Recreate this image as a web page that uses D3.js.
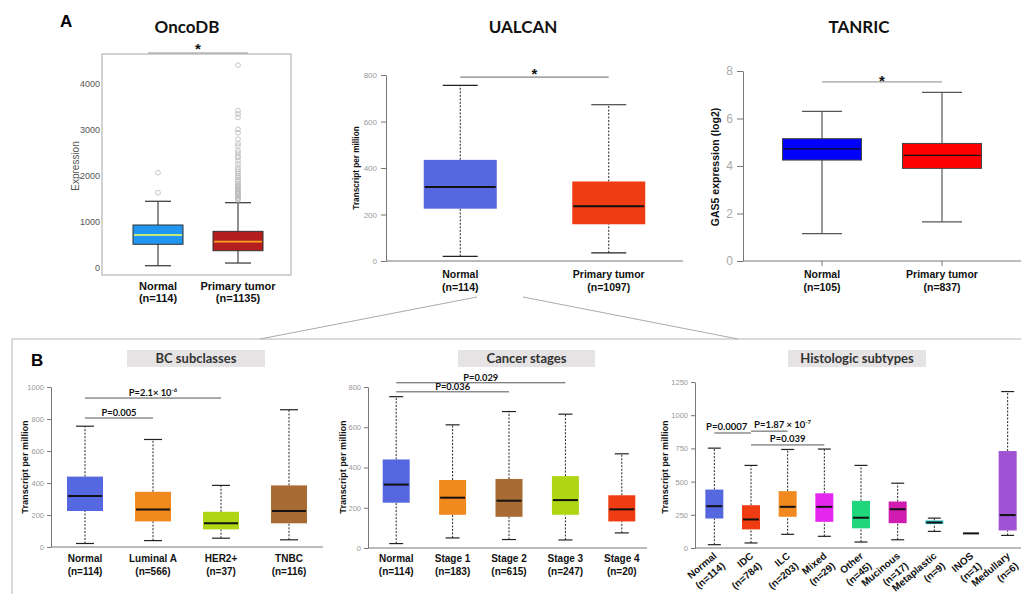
<!DOCTYPE html>
<html>
<head>
<meta charset="utf-8">
<script src="https://cdn.jsdelivr.net/npm/d3@7"></script>
<style>
  body { margin: 0; background: #fff; }
  svg { display: block; }
</style>
</head>
<body>
<div id="chart"></div>
<script>
// ---- data: [min, q1, median, q3, max] per group ----
var oncoGroups = ["Normal", "Primary tumor"];
var oncoN = ["(n=114)", "(n=1135)"];
var oncoStats = [[50, 515, 717, 935, 1450], [108, 376, 572, 797, 1420]];
var oncoOutNormal = [1637, 2072];
var oncoOutTumor = [1480, 1500, 1520, 1550, 1580, 1610, 1625, 1650, 1680, 1710, 1740, 1760,
    1780, 1800, 1840, 1880, 1920, 1970, 2000, 2050, 2095, 2140, 2190, 2260, 2330, 2400,
    2435, 2500, 2550, 2650, 2700, 2800, 2940, 3015, 3275, 3350, 3420, 4410];
var oncoSig = [["Normal", "Primary tumor", 4674, "*"]];

var ualcanGroups = ["Normal", "Primary tumor"];
var ualcanN = ["(n=114)", "(n=1097)"];
var ualcanStats = [[20, 225, 318, 435, 755], [35, 158, 235, 342, 672]];
var ualcanSig = [["Normal", "Primary tumor", 791, "*"]];

var tanricGroups = ["Normal", "Primary tumor"];
var tanricN = ["(n=105)", "(n=837)"];
var tanricStats = [[1.15, 4.25, 4.72, 5.15, 6.3], [1.65, 3.9, 4.45, 4.95, 7.1]];
var tanricSig = [["Normal", "Primary tumor", 7.54, "*"]];

var subclassGroups = ["Normal", "Luminal A", "HER2+", "TNBC"];
var subclassN = ["(n=114)", "(n=566)", "(n=37)", "(n=116)"];
var subclassStats = [[22, 225, 318, 440, 755], [40, 160, 235, 345, 672],
    [55, 110, 148, 220, 385], [45, 148, 225, 385, 858]];
var subclassSig = [["Normal", "HER2+", 931, "P=2.1× 10", "-6"], ["Normal", "Luminal A", 806, "P=0.005", ""]];

var stageGroups = ["Normal", "Stage 1", "Stage 2", "Stage 3", "Stage 4"];
var stageN = ["(n=114)", "(n=183)", "(n=615)", "(n=247)", "(n=20)"];
var stageStats = [[22, 225, 315, 440, 752], [50, 165, 250, 338, 612], [42, 155, 235, 343, 678],
    [40, 165, 238, 357, 665], [75, 132, 192, 262, 468]];
var stageSig = [["Normal", "Stage 3", 821, "P=0.029", ""], ["Normal", "Stage 2", 776, "P=0.036", ""]];

var histoGroups = ["Normal", "IDC", "ILC", "Mixed", "Other", "Mucinous", "Metaplastic", "INOS", "Medullary"];
var histoN = ["(n=114)", "(n=784)", "(n=203)", "(n=29)", "(n=45)", "(n=17)", "(n=9)", "(n=1)", "(n=6)"];
var histoStats = [[25, 222, 315, 440, 752], [38, 140, 215, 322, 622], [103, 235, 310, 428, 742],
    [88, 197, 310, 412, 745], [45, 148, 228, 355, 622], [62, 187, 292, 350, 488],
    [125, 180, 192, 208, 225], [110, 110, 110, 110, 110], [95, 132, 248, 730, 1178]];
var histoSig = [["Normal", "IDC", 866, "P=0.0007", ""], ["IDC", "ILC", 880, "P=1.87 × 10", "-7"],
    ["IDC", "Mixed", 776, "P=0.039", ""]];

// ---- colours ----
var blue = "#5668df", orange = "#f08a1e", lime = "#aed614", brown = "#a86b33", red = "#f03c12";
var oncoColors = ["#2196f0", "#b51e1e"], oncoMedians = ["#c4e87a", "#f5a623"];
var ualcanColors = [blue, red];
var tanricColors = ["#0000ff", "#ff0000"];
var subclassColors = [blue, orange, lime, brown];
var stageColors = [blue, orange, brown, lime, red];
var histoColors = [blue, red, orange, "#e428f0", "#20d67c", "#d01cb0", "#38c6c8", "#111", "#a052d4"];

var svg = d3.select("#chart").append("svg").attr("width", 1021).attr("height", 594);

var labelFont = "'Liberation Sans', Arial, sans-serif";
var titleFont = "Lato, 'Open Sans', sans-serif";

// panel B frame and the zoom lines from UALCAN
svg.append("rect").attr("x", 12).attr("y", 339).attr("width", 1030).attr("height", 300)
    .attr("fill", "none").attr("stroke", "#b5b5b5");
svg.append("line").attr("x1", 260).attr("y1", 339).attr("x2", 477).attr("y2", 297).attr("stroke", "#aaa");
svg.append("line").attr("x1", 523).attr("y1", 297).attr("x2", 738).attr("y2", 339).attr("stroke", "#aaa");

// panel letters and titles
svg.append("text").attr("x", 60).attr("y", 27).text("A")
    .style("font", "bold 17px " + labelFont);
svg.append("text").attr("x", 31).attr("y", 366).text("B")
    .style("font", "bold 17px " + labelFont);
[["OncoDB", 187], ["UALCAN", 523], ["TANRIC", 859]].forEach(function (t) {
    svg.append("text").attr("x", t[1]).attr("y", 33).attr("text-anchor", "middle")
        .style("font", "bold 17px " + titleFont).attr("fill", "#111").text(t[0]);
});
[["BC subclasses", 127, 265], ["Cancer stages", 458, 595], ["Histologic subtypes", 788, 926]].forEach(function (t) {
    svg.append("rect").attr("x", t[1]).attr("y", 350).attr("width", t[2] - t[1]).attr("height", 17)
        .attr("fill", "#e5e3e3");
    svg.append("text").attr("x", (t[1] + t[2]) / 2).attr("y", 363).attr("text-anchor", "middle")
        .style("font", "bold 13px " + titleFont).attr("fill", "#333").text(t[0]);
});

// OncoDB frame sits behind its panel
svg.append("rect").attr("x", 102).attr("y", 54).attr("width", 189).attr("height", 221)
    .attr("fill", "#fff").attr("stroke", "#a8a8a8");

function drawPanel(p) {
    var g = svg.append("g");
    var x = d3.scaleBand().domain(p.groups).range(p.xRange);
    var y = d3.scaleLinear().domain(p.yDomain).range(p.yRange);
    var cx = function (name) { return x(name) + x.bandwidth() / 2; };

    // y axis
    var yAxis = g.append("g")
        .attr("transform", "translate(" + p.axisX + ",0)")
        .call(d3.axisLeft(y).tickValues(p.ticks).tickFormat(d3.format("d"))
            .tickSize(p.tickSize).tickPadding(p.tickPad).tickSizeOuter(0));
    yAxis.select(".domain").attr("stroke", p.noAxisLine ? "none" : "#777");
    yAxis.selectAll(".tick line").attr("stroke", p.tickSize ? "#777" : "none");
    yAxis.selectAll("text").attr("fill", p.tickColor).style("font", p.tickFont);

    if (!p.noAxisLine) {
        g.append("line").attr("x1", p.axisX).attr("x2", p.xEnd)
            .attr("y1", y(p.yDomain[0])).attr("y2", y(p.yDomain[0])).attr("stroke", "#777");
    }
    if (p.xTicks) {
        g.selectAll(".xtick").data(p.groups).enter().append("line")
            .attr("x1", cx).attr("x2", cx)
            .attr("y1", y(p.yDomain[0])).attr("y2", y(p.yDomain[0]) + 5).attr("stroke", "#777");
    }

    // y title
    g.append("text")
        .attr("transform", "translate(" + p.titleX + "," + p.titleY + ") rotate(-90)")
        .attr("text-anchor", "middle")
        .attr("fill", p.titleColor || "#111")
        .style("font", p.titleFont)
        .text(p.yTitle);

    var rows = p.groups.map(function (name, i) {
        return { name: name, s: p.stats[i], color: p.colors[i], median: p.medians ? p.medians[i] : "#111" };
    });

    var box = g.selectAll(".box").data(rows).enter().append("g").attr("class", "box");

    // whiskers
    [[0, 1], [3, 4]].forEach(function (k) {
        box.append("line")
            .attr("x1", function (d) { return cx(d.name); })
            .attr("x2", function (d) { return cx(d.name); })
            .attr("y1", function (d) { return y(d.s[k[0]]); })
            .attr("y2", function (d) { return y(d.s[k[1]]); })
            .attr("stroke", p.whiskerColor)
            .attr("stroke-width", p.whiskerWidth)
            .attr("stroke-dasharray", p.dash);
    });
    // caps
    [0, 4].forEach(function (k) {
        box.filter(function (d) { return d.s[0] !== d.s[4]; }).append("line")
            .attr("x1", function (d) { return cx(d.name) - p.capWidth / 2; })
            .attr("x2", function (d) { return cx(d.name) + p.capWidth / 2; })
            .attr("y1", function (d) { return y(d.s[k]); })
            .attr("y2", function (d) { return y(d.s[k]); })
            .attr("stroke", p.whiskerColor)
            .attr("stroke-width", p.capStroke);
    });
    // boxes
    box.append("rect")
        .attr("x", function (d) { return cx(d.name) - p.boxWidth / 2; })
        .attr("y", function (d) { return y(d.s[3]); })
        .attr("width", p.boxWidth)
        .attr("height", function (d) { return y(d.s[1]) - y(d.s[3]); })
        .attr("fill", function (d) { return d.color; })
        .attr("stroke", p.boxStroke || "none");
    // medians
    box.append("line")
        .attr("x1", function (d) { return cx(d.name) - p.boxWidth / 2 + 1; })
        .attr("x2", function (d) { return cx(d.name) + p.boxWidth / 2 - 1; })
        .attr("y1", function (d) { return y(d.s[2]); })
        .attr("y2", function (d) { return y(d.s[2]); })
        .attr("stroke", function (d) { return d.median; })
        .attr("stroke-width", p.medianWidth);

    // outliers
    if (p.outliers) {
        p.outliers.forEach(function (o) {
            g.selectAll(null).data(o.values).enter().append("circle")
                .attr("cx", cx(o.name))
                .attr("cy", function (v) { return y(v); })
                .attr("r", 2.4)
                .attr("fill", "none")
                .attr("stroke", "#b8b8b8")
                .attr("stroke-width", 0.8);
        });
    }

    // significance brackets
    p.sig.forEach(function (s, i) {
        var x1 = cx(s[0]) - (p.sigExt || 0), x2 = cx(s[1]) + (p.sigExt || 0), ly = y(s[2]);
        var align = p.sigAlign ? p.sigAlign[i] : "middle";
        g.append("line").attr("x1", x1).attr("x2", x2).attr("y1", ly).attr("y2", ly)
            .attr("stroke", p.sigColor || "#555").attr("stroke-width", 1);
        var t = g.append("text")
            .attr("x", align === "start" ? x1 + 3 : (x1 + x2) / 2 - (align === "left" ? 6 : 0))
            .attr("y", ly + p.sigDy)
            .attr("text-anchor", align === "start" ? "start" : "middle")
            .attr("fill", "#111")
            .style("font", p.sigFont)
            .text(s[3]);
        if (s[4]) {
            t.append("tspan").attr("dy", -4).style("font-size", "6px").text(s[4]);
        }
    });

    // group labels
    if (p.rotate) {
        var lab = g.selectAll(".xl").data(rows).enter().append("text")
            .attr("transform", function (d) {
                return "translate(" + (cx(d.name) + 3) + "," + p.labelY + ") rotate(" + p.rotate + ")";
            })
            .attr("text-anchor", "end")
            .attr("fill", "#111")
            .style("font", p.labelFont);
        lab.append("tspan").attr("x", 0).text(function (d) { return d.name; });
        lab.append("tspan").attr("x", 0).attr("dy", p.lineGap)
            .text(function (d, i) { return p.ns[i]; });
    } else {
        var lab2 = g.selectAll(".xl").data(rows).enter().append("text")
            .attr("text-anchor", "middle")
            .attr("fill", "#111")
            .style("font", p.labelFont);
        lab2.append("tspan").attr("x", function (d) { return cx(d.name); }).attr("y", p.labelY)
            .text(function (d) { return d.name; });
        lab2.append("tspan").attr("x", function (d) { return cx(d.name); }).attr("y", p.labelY + p.lineGap)
            .text(function (d, i) { return p.ns[i]; });
    }
}

// OncoDB
drawPanel({
    groups: oncoGroups, ns: oncoN, stats: oncoStats, colors: oncoColors, medians: oncoMedians,
    xRange: [118, 278], yDomain: [0, 4000], yRange: [268, 84], ticks: [0, 1000, 2000, 3000, 4000],
    axisX: 102, noAxisLine: true, tickSize: 0, tickPad: 2, tickColor: "#555", tickFont: "9px " + labelFont,
    yTitle: "Expression", titleX: 79, titleY: 166, titleColor: "#555", titleFont: "10px " + labelFont,
    boxWidth: 50, capWidth: 26, boxStroke: "#333", whiskerColor: "#444", whiskerWidth: 1.2, capStroke: 1.3,
    dash: null, medianWidth: 1.8,
    outliers: [{ name: "Normal", values: oncoOutNormal }, { name: "Primary tumor", values: oncoOutTumor }],
    sig: oncoSig, sigExt: 10, sigColor: "#999", sigDy: 1, sigFont: "bold 15px " + labelFont,
    labelY: 290, lineGap: 12, labelFont: "bold 11px " + labelFont
});

// UALCAN
drawPanel({
    groups: ualcanGroups, ns: ualcanN, stats: ualcanStats, colors: ualcanColors,
    xRange: [386, 683], yDomain: [0, 800], yRange: [261, 75], ticks: [0, 200, 400, 600, 800],
    axisX: 386, xEnd: 683, tickSize: 5, tickPad: 4, tickColor: "#999", tickFont: "8px " + labelFont,
    yTitle: "Transcript per million", titleX: 359, titleY: 168, titleFont: "bold 8.2px " + labelFont,
    boxWidth: 73, capWidth: 35, whiskerColor: "#222", whiskerWidth: 1, capStroke: 1.2,
    dash: "2,1.5", medianWidth: 2,
    sig: ualcanSig, sigColor: "#666", sigDy: 2, sigFont: "bold 15px " + labelFont,
    labelY: 278, lineGap: 13, labelFont: "bold 10.5px " + labelFont
});

// TANRIC
drawPanel({
    groups: tanricGroups, ns: tanricN, stats: tanricStats, colors: tanricColors,
    xRange: [762, 1002], yDomain: [0, 8], yRange: [261, 71], ticks: [0, 2, 4, 6, 8],
    axisX: 743, xEnd: 1021, xTicks: true, tickSize: 6, tickPad: 4, tickColor: "#aaa", tickFont: "12px " + labelFont,
    yTitle: "GAS5 expression (log2)", titleX: 719, titleY: 167, titleFont: "bold 10.5px " + labelFont,
    boxWidth: 79, capWidth: 40, boxStroke: "#444", whiskerColor: "#555", whiskerWidth: 1.2, capStroke: 1.3,
    dash: null, medianWidth: 1.2,
    sig: tanricSig, sigColor: "#888", sigDy: 4.5, sigFont: "bold 15px " + labelFont,
    labelY: 278, lineGap: 13, labelFont: "bold 10.5px " + labelFont
});

// B: BC subclasses
drawPanel({
    groups: subclassGroups, ns: subclassN, stats: subclassStats, colors: subclassColors,
    xRange: [51, 323], yDomain: [0, 1000], yRange: [547, 387], ticks: [0, 200, 400, 600, 800, 1000],
    axisX: 51, xEnd: 323, tickSize: 4, tickPad: 3, tickColor: "#999", tickFont: "7.5px " + labelFont,
    yTitle: "Transcript per million", titleX: 28, titleY: 467, titleFont: "bold 9.2px " + labelFont,
    boxWidth: 36, capWidth: 18, whiskerColor: "#222", whiskerWidth: 1, capStroke: 1.2,
    dash: "2,1.5", medianWidth: 2,
    sig: subclassSig, sigColor: "#555", sigDy: -2, sigFont: "bold 9.3px " + titleFont,
    labelY: 562, lineGap: 12.5, labelFont: "bold 10px " + labelFont
});

// B: cancer stages
drawPanel({
    groups: stageGroups, ns: stageN, stats: stageStats, colors: stageColors,
    xRange: [368, 650], yDomain: [0, 800], yRange: [548, 387], ticks: [0, 200, 400, 600, 800],
    axisX: 368, xEnd: 647, tickSize: 4, tickPad: 3, tickColor: "#999", tickFont: "7.5px " + labelFont,
    yTitle: "Transcript per million", titleX: 346, titleY: 467, titleFont: "bold 9.2px " + labelFont,
    boxWidth: 27, capWidth: 14, whiskerColor: "#222", whiskerWidth: 1, capStroke: 1.2,
    dash: "2,1.5", medianWidth: 2,
    sig: stageSig, sigColor: "#555", sigDy: -2, sigFont: "bold 9.3px " + titleFont,
    labelY: 562, lineGap: 12.5, labelFont: "bold 10px " + labelFont
});

// B: histologic subtypes
drawPanel({
    groups: histoGroups, ns: histoN, stats: histoStats, colors: histoColors,
    xRange: [696, 1026], yDomain: [0, 1250], yRange: [548, 382], ticks: [0, 250, 500, 750, 1000, 1250],
    axisX: 695, xEnd: 1021, tickSize: 4, tickPad: 3, tickColor: "#999", tickFont: "7.5px " + labelFont,
    yTitle: "Transcript per million", titleX: 668, titleY: 467, titleFont: "bold 9.2px " + labelFont,
    boxWidth: 18, capWidth: 13, whiskerColor: "#222", whiskerWidth: 1, capStroke: 1.2,
    dash: "2,1.5", medianWidth: 2,
    sig: histoSig, sigAlign: ["left", "start", "middle"], sigColor: "#555", sigDy: -3,
    sigFont: "bold 9.5px " + titleFont,
    labelY: 557, rotate: -40, lineGap: 13, labelFont: "bold 10px " + labelFont
});
</script>
</body>
</html>
